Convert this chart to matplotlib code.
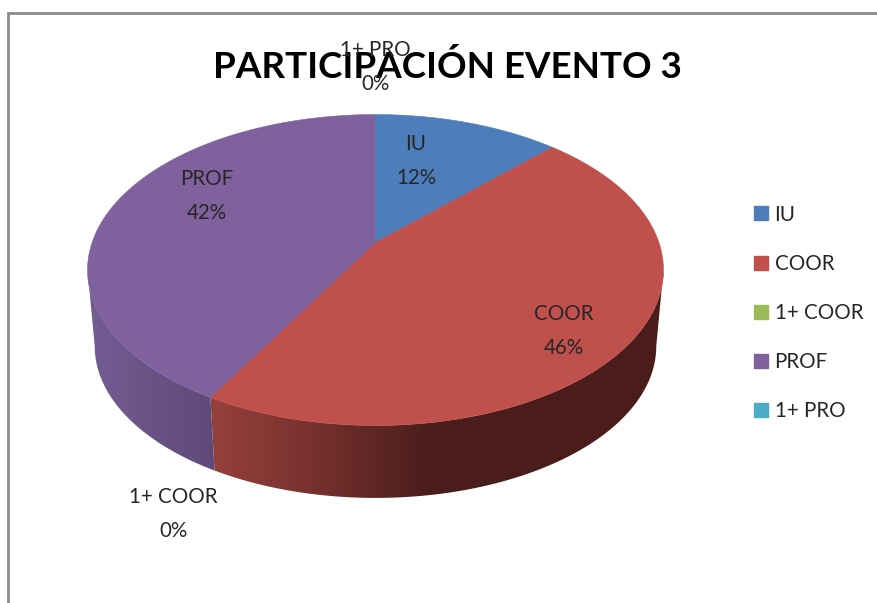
import numpy as np
import matplotlib
matplotlib.use('Agg')
import matplotlib.pyplot as plt
from matplotlib.colors import to_rgb
from matplotlib.patches import Patch, Polygon

plt.rcParams['font.family'] = ['Lato', 'DejaVu Sans']

categorias = ['IU', 'COOR', '1+ COOR', 'PROF', '1+ PRO']
valores = [12.4, 45.8, 0, 41.8, 0]
colores = ['#4d7ebb', '#bf504c', '#9bbb59', '#7f619e', '#4bacc6']
titulo = 'PARTICIPACIÓN EVENTO 3'

# colour of the pie's side, going left to right in pixels
lado_x = [90, 213, 320, 430, 660]
lado_rojo = ['#96403c', '#96403c', '#75302d', '#4a1d1b', '#4a1d1b']
lado_morado = ['#735c92', '#5f4a78', '#5f4a78', '#5f4a78', '#5f4a78']

# pie in perspective: circle -> screen pixels
cx, cy = 375.5, 242.5
a, c, k = 283.4, 150.6, 0.177
esc_base, prof_base = 0.975, 77


def proyecta(t, esc=1.0, dy=0.0):
    # t is clockwise from 12 o'clock, radians
    u, v = np.sin(t), np.cos(t)
    d = 1 + k * v
    return cx + esc * a * u / d, cy - esc * c * v / d + dy


fig = plt.figure(figsize=(8.77, 6.03), dpi=100)
ax = fig.add_axes([0, 0, 1, 1])

total = sum(valores)
limites = np.concatenate([[0], np.cumsum(valores)]) / total * 2 * np.pi

# only the front of the rim shows, between the two side tangents
t_der = np.arccos(-k)
t_izq = 2 * np.pi - t_der

for i, cat in enumerate(categorias):
    ini, fin = max(limites[i], t_der), min(limites[i + 1], t_izq)
    if valores[i] == 0 or ini >= fin:
        continue
    t = np.linspace(ini, fin, 300)
    x1, y1 = proyecta(t)
    x2, y2 = proyecta(t, esc_base, prof_base)
    pts = np.column_stack([np.r_[x1, x2[::-1]], np.r_[y1, y2[::-1]]])
    poly = Polygon(pts, closed=True, facecolor='none', edgecolor='none', transform=ax.transData)
    ax.add_patch(poly)
    col_lado = lado_rojo if cat == 'COOR' else lado_morado
    rgb = np.array([to_rgb(col) for col in col_lado])
    xs = np.arange(pts[:, 0].min(), pts[:, 0].max() + 1)
    grad = np.stack([np.interp(xs, lado_x, rgb[:, n]) for n in range(3)], axis=-1)[np.newaxis, :, :]
    im = ax.imshow(grad, extent=(xs[0], xs[-1], pts[:, 1].max(), pts[:, 1].min()), aspect='auto',
                   interpolation='bilinear')
    im.set_clip_path(poly)

ax.set_xlim(0, 877)
ax.set_ylim(603, 0)
ax.axis('off')

# chart frame
ax.plot([7.5, 7.5, 877], [603, 12.5, 12.5], color='#8a8a8a', lw=2, solid_joinstyle='miter')

for i, cat in enumerate(categorias):
    if valores[i] == 0:
        continue
    t = np.linspace(limites[i], limites[i + 1], 200)
    x, y = proyecta(t)
    pts = np.column_stack([np.r_[cx, x], np.r_[cy, y]])
    ax.add_patch(Polygon(pts, closed=True, facecolor=colores[i], edgecolor=colores[i], lw=0.4))

ax.text(447, 67, titulo, ha='center', va='center', fontsize=26.5, fontweight='bold', color='black')

# data labels were placed by hand in the original
pos_etiquetas = [(416, 161), (564, 331), (173, 514), (207, 196), (375, 67)]
for cat, val, (px, py) in zip(categorias, valores, pos_etiquetas):
    ax.text(px, py, f'{cat}\n{round(val)}%', ha='center', va='center', fontsize=14.8,
            color='#262626', linespacing=1.83)

handles = [Patch(facecolor=col, edgecolor=col, label=cat) for cat, col in zip(categorias, colores)]
ax.legend(handles=handles, loc='center left', bbox_to_anchor=(754, 313), bbox_transform=ax.transData,
          frameon=False, fontsize=14.8, handlelength=0.66, handleheight=0.66, handletextpad=0.34,
          labelspacing=1.42, borderpad=0, borderaxespad=0, labelcolor='#262626')

fig.savefig('out.png', dpi=100)
